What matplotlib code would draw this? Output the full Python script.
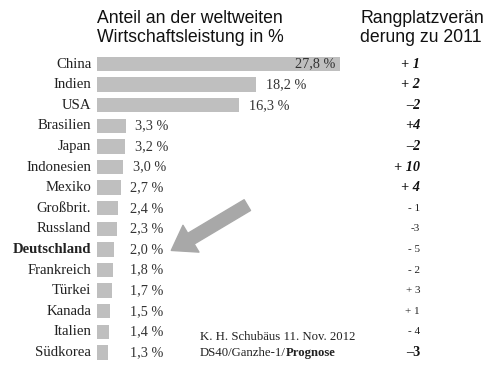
import matplotlib
matplotlib.use("Agg")
import matplotlib.pyplot as plt

# Data
countries = ["China", "Indien", "USA", "Brasilien", "Japan", "Indonesien", "Mexiko",
             "Großbrit.", "Russland", "Deutschland", "Frankreich", "Türkei", "Kanada",
             "Italien", "Südkorea"]
share = [27.8, 18.2, 16.3, 3.3, 3.2, 3.0, 2.7, 2.4, 2.3, 2.0, 1.8, 1.7, 1.5, 1.4, 1.3]
rank_change = ["+ 1", "+ 2", "–2", "+4", "–2", "+ 10", "+ 4", "- 1", "-3", "- 5",
               "- 2", "+ 3", "+ 1", "- 4", "–3"]

# how the rank numbers are typeset in the original (b=bold italic, r=regular, B=bold)
rank_style = ["b", "b", "b", "b", "b", "b", "b", "r", "r", "r", "r", "r", "r", "r", "B"]

serif = "Liberation Serif"
sans = "Liberation Sans"
bar_col = "#bfbfbf"

W, H = 500, 369
fig = plt.figure(figsize=(5, 3.69), dpi=100)
fig.patch.set_facecolor("white")

# axes placed so that x=0 sits at px 97, 1 % ~ 8.74 px, rows ~20.6 px apart
px_per_pct = 8.74
left_px, right_px = 97, 497
row0, rowstep = 64, 20.6
top_px = row0 - rowstep / 2
bot_px = row0 + rowstep * (len(countries) - 0.5)
ax = fig.add_axes([left_px / W, 1 - bot_px / H, (right_px - left_px) / W, (bot_px - top_px) / H])
ax.set_xlim(0, (right_px - left_px) / px_per_pct)
ax.set_ylim(len(countries) - 0.5, -0.5)
ax.axis("off")

ypos = list(range(len(countries)))
ax.barh(ypos, share, height=0.7, color=bar_col, edgecolor="none")

# country names
for i, c in enumerate(countries):
    w = "bold" if c == "Deutschland" else "normal"
    ax.text(-0.65, i, c, ha="right", va="center", fontsize=10.6, family=serif,
            fontweight=w, color="#222222")

# value labels
for i, v in enumerate(share):
    s = f"{v:.1f} %".replace(".", ",")
    if v > 25:
        ax.text(v - 0.5, i, s, ha="right", va="center", fontsize=10.3, family=serif, color="#333333")
    else:
        ax.text(max(v + 1.1, 3.8), i, s, ha="left", va="center", fontsize=10.3, family=serif,
                color="#333333")

# rank change column
rank_x = (420 - left_px) / px_per_pct
for i, (r, st) in enumerate(zip(rank_change, rank_style)):
    if st == "b":
        ax.text(rank_x, i, r, ha="right", va="center", fontsize=10.3, family=serif,
                fontweight="bold", fontstyle="italic", color="#111111")
    elif st == "B":
        ax.text(rank_x, i, r, ha="right", va="center", fontsize=10.3, family=serif,
                fontweight="bold", color="#111111")
    else:
        ax.text(rank_x, i, r, ha="right", va="center", fontsize=8, family=serif, color="#222222")

# grey arrow pointing at Deutschland
ax.annotate("", xy=(8.5, 9.05), xytext=(17.2, 6.85),
            arrowprops=dict(arrowstyle="simple,head_length=1.1,head_width=1.5,tail_width=0.6",
                            color="#a8a8a8", mutation_scale=15, shrinkA=0, shrinkB=0))

# headers
fig.text(97 / W, 1 - 10 / H, "Anteil an der weltweiten\nWirtschaftsleistung in %",
         ha="left", va="top", fontsize=12.7, family=sans, color="#111111", linespacing=1.15)
fig.text(360 / W, 1 - 10 / H, "Rangplatzverän\nderung zu 2011",
         ha="left", va="top", fontsize=12.7, family=sans, color="#111111", linespacing=1.15)

# footnote
fig.text(200 / W, 1 - 337 / H, "K. H. Schubäus 11. Nov. 2012", ha="left", va="center",
         fontsize=9.2, family=serif, color="#222222")
t = fig.text(200 / W, 1 - 353 / H, "DS40/Ganzhe-1/", ha="left", va="center",
             fontsize=9.2, family=serif, color="#222222")
fig.canvas.draw()
bb = t.get_window_extent()
fig.text(bb.x1 / W, 1 - 353 / H, "Prognose", ha="left", va="center",
         fontsize=9.2, family=serif, fontweight="bold", color="#222222")

fig.savefig("out.png", dpi=100, facecolor="white")
